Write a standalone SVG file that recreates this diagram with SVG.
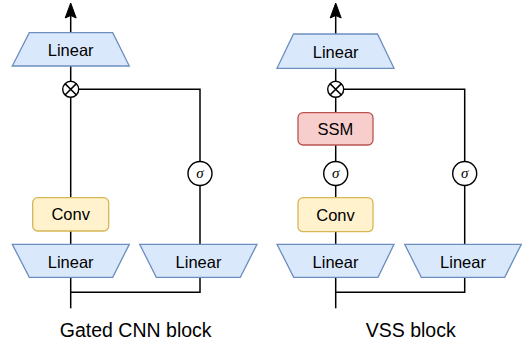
<svg xmlns="http://www.w3.org/2000/svg" width="526" height="345" viewBox="0 0 526 345">
<defs>
<style>
.lin{fill:#dae8fc;stroke:#6c8ebf;stroke-width:1.3}
.conv{fill:#fff2cc;stroke:#d6b656;stroke-width:1.3}
.ssm{fill:#f8cecc;stroke:#b85450;stroke-width:1.3}
.op{fill:#ffffff;stroke:#000;stroke-width:1.4}
.w{fill:none;stroke:#000;stroke-width:1.5}
.t{font-family:"Liberation Sans",Arial,Helvetica,sans-serif;font-size:16.5px;fill:#000;text-anchor:middle}
.s{font-family:"Liberation Serif","DejaVu Serif",serif;font-style:italic;font-size:15px;fill:#000;text-anchor:middle}
.cap{font-family:"Liberation Sans",Arial,Helvetica,sans-serif;font-size:19.5px;fill:#000;text-anchor:middle}
</style>
</defs>
<g id="connectors">
<path class="w" d="M70.7,32.7 V12"/>
<path d="M70.7,3 L76.2,18 L70.7,15.5 L65.2,18 Z" fill="#000" stroke="#000" stroke-width="1"/>
<path class="w" d="M70.7,66 V81.3"/>
<path class="w" d="M70.7,97.3 V197.7"/>
<path class="w" d="M78.7,89.3 H200 V161.5"/>
<path class="w" d="M200,185.5 V244.3"/>
<path class="w" d="M70.7,231 V244.3"/>
<path class="w" d="M70.7,277.3 V308.3"/>
<path class="w" d="M70.7,292.3 H200 V277.3"/>
<path class="w" d="M335.7,34 V12"/>
<path d="M335.7,3 L341.2,18 L335.7,15.5 L330.2,18 Z" fill="#000" stroke="#000" stroke-width="1"/>
<path class="w" d="M335.7,68.3 V81.3"/>
<path class="w" d="M335.7,97.3 V112.7"/>
<path class="w" d="M343.7,89.3 H464.7 V161.5"/>
<path class="w" d="M464.7,185.5 V244.3"/>
<path class="w" d="M335.7,145 V161.5"/>
<path class="w" d="M335.7,185.5 V197.7"/>
<path class="w" d="M335.7,231.7 V244.3"/>
<path class="w" d="M335.7,277.3 V308.3"/>
<path class="w" d="M335.7,292.3 H464.7 V277.3"/>
</g>
<g id="g-linear-top">
<polygon class="lin" points="29.3,32.7 112.7,32.7 129.3,66 12.3,66"/>
<text class="t" x="70.7" y="55.8">Linear</text>
</g>
<g id="g-mul">
<circle class="op" cx="70.7" cy="89.3" r="8"/>
<path class="w" d="M65,83.6 L76.4,95 M76.4,83.6 L65,95" stroke-width="1.3"/>
</g>
<g id="g-sigma">
<circle class="op" cx="200" cy="173.5" r="12"/>
<text class="s" x="200" y="178.3">σ</text>
</g>
<g id="g-conv">
<rect class="conv" x="32.7" y="197.7" width="76" height="33.3" rx="5"/>
<text class="t" x="70.7" y="220.2">Conv</text>
</g>
<g id="g-linear-l">
<polygon class="lin" points="12.3,244.3 129.3,244.3 112.7,277.3 29.3,277.3"/>
<text class="t" x="70.7" y="267.5">Linear</text>
</g>
<g id="g-linear-r">
<polygon class="lin" points="139.7,244.3 257,244.3 240.3,277.3 156.3,277.3"/>
<text class="t" x="198.5" y="267.5">Linear</text>
</g>
<g id="g-caption">
<text class="cap" x="135.7" y="336.5">Gated CNN block</text>
</g>
<g id="v-linear-top">
<polygon class="lin" points="293.5,34 377.5,34 394,68.3 277,68.3"/>
<text class="t" x="335.7" y="57.6">Linear</text>
</g>
<g id="v-mul">
<circle class="op" cx="335.7" cy="89.3" r="8"/>
<path class="w" d="M330,83.6 L341.4,95 M341.4,83.6 L330,95" stroke-width="1.3"/>
</g>
<g id="v-ssm">
<rect class="ssm" x="298" y="112.7" width="75" height="32.3" rx="5"/>
<text class="t" x="335.5" y="134.8">SSM</text>
</g>
<g id="v-sigma1">
<circle class="op" cx="335.7" cy="173.5" r="12"/>
<text class="s" x="335.7" y="178.3">σ</text>
</g>
<g id="v-conv">
<rect class="conv" x="298" y="197.7" width="75" height="34" rx="5"/>
<text class="t" x="335.5" y="220.5">Conv</text>
</g>
<g id="v-linear-l">
<polygon class="lin" points="277,244.3 394,244.3 378,277.3 293.7,277.3"/>
<text class="t" x="335.5" y="267.5">Linear</text>
</g>
<g id="v-sigma2">
<circle class="op" cx="464.7" cy="173.5" r="12"/>
<text class="s" x="464.7" y="178.3">σ</text>
</g>
<g id="v-linear-r">
<polygon class="lin" points="404.7,244.3 521.3,244.3 504.7,277.3 421.3,277.3"/>
<text class="t" x="463" y="267.5">Linear</text>
</g>
<g id="v-caption">
<text class="cap" x="410.7" y="336.5">VSS block</text>
</g>
</svg>
